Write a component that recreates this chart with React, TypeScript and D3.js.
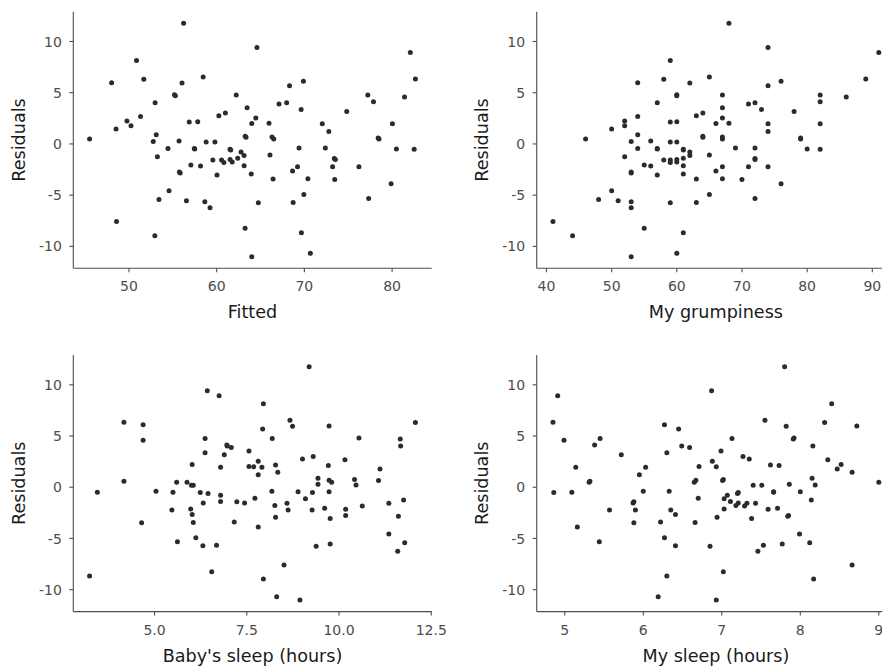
import React from 'react';
import * as d3 from 'd3';

const grumpiness = [
  68, 74, 91, 59, 65, 89, 58, 76, 54, 62,
  74, 60, 67, 82, 60, 86, 82, 72, 57, 71,
  67, 73, 78, 64, 63, 54, 67, 52, 60, 59,
  68, 66, 74, 82, 52, 50, 74, 54, 64, 67,
  64, 79, 46, 67, 79, 56, 53, 59, 60, 72,
  69, 54, 57, 80, 57, 61, 82, 61, 62, 65,
  62, 52, 61, 72, 60, 72, 58, 59, 60, 59,
  55, 61, 56, 67, 71, 74, 66, 53, 53, 61,
  57, 67, 63, 70, 76, 50, 65, 72, 48, 51,
  53, 63, 59, 53, 41, 55, 61, 44, 60, 53,
];

const residuals = [
  11.77, 9.41, 8.92, 8.14, 6.54, 6.34, 6.31, 6.11, 5.98, 5.95,
  5.69, 4.81, 4.77, 4.77, 4.71, 4.58, 4.12, 4.02, 4.02, 3.89,
  3.53, 3.37, 3.17, 3.01, 2.75, 2.68, 2.54, 2.23, 2.16, 2.13,
  2.03, 2.0, 1.96, 1.96, 1.77, 1.47, 1.21, 0.89, 0.75, 0.69,
  0.65, 0.59, 0.49, 0.49, 0.49, 0.29, 0.23, 0.2, 0.2, -0.39,
  -0.39, -0.45, -0.45, -0.49, -0.5, -0.52, -0.52, -0.6, -0.78, -1.08,
  -1.12, -1.24, -1.4, -1.41, -1.53, -1.53, -1.56, -1.56, -1.77, -1.82,
  -2.06, -2.13, -2.16, -2.22, -2.22, -2.22, -2.65, -2.75, -2.84, -2.94,
  -3.04, -3.4, -3.43, -3.46, -3.89, -4.57, -4.94, -5.33, -5.42, -5.55,
  -5.65, -5.72, -5.75, -6.24, -7.58, -8.24, -8.66, -8.95, -10.68, -11.0,
];

const mySleep = [
  7.8, 6.87, 4.91, 8.4, 7.55, 4.85, 8.31, 6.27, 8.72, 7.82,
  6.45, 7.92, 7.13, 5.45, 7.91, 4.99, 5.38, 6.49, 8.16, 6.59,
  6.99, 6.3, 5.72, 7.27, 7.35, 8.35, 6.88, 8.52, 7.62, 7.73,
  6.71, 6.93, 6.03, 5.14, 8.47, 8.66, 5.95, 8.15, 7.02, 6.67,
  7.01, 5.32, 9.0, 6.65, 5.31, 7.86, 8.19, 7.51, 7.4, 6.0,
  6.33, 8.0, 7.66, 5.09, 7.66, 7.21, 4.86, 7.2, 7.07, 6.7,
  7.03, 8.14, 7.11, 5.88, 7.21, 5.87, 7.43, 7.32, 7.18, 7.29,
  7.71, 7.03, 7.59, 6.35, 5.9, 5.57, 6.41, 7.85, 7.84, 6.94,
  7.38, 6.22, 6.66, 5.88, 5.16, 7.99, 6.27, 5.44, 8.12, 7.77,
  7.53, 6.41, 6.85, 7.46, 8.66, 7.02, 6.3, 8.17, 6.19, 6.93,
];

const babySleep = [
  9.19, 6.43, 6.75, 7.95, 8.67, 4.17, 12.07, 4.69, 9.73, 8.74,
  7.93, 10.54, 6.37, 8.19, 11.66, 4.69, 6.96, 6.97, 11.67, 7.08,
  7.56, 6.37, 6.89, 9.3, 9.01, 10.16, 7.81, 6.02, 8.28, 9.71,
  7.56, 7.69, 6.79, 7.91, 11.11, 8.34, 7.81, 9.43, 10.42, 9.73,
  11.07, 4.17, 5.6, 5.88, 9.8, 9.43, 10.46, 6.0, 6.05, 5.04,
  8.18, 8.89, 9.73, 3.45, 5.5, 6.24, 9.28, 6.45, 6.79, 7.72,
  9.09, 11.75, 6.79, 7.23, 6.32, 7.44, 8.59, 11.35, 8.26, 10.63,
  9.61, 5.98, 10.18, 5.47, 8.62, 9.27, 6.02, 10.18, 11.61, 8.28,
  9.76, 7.16, 6.05, 4.65, 7.81, 11.35, 6.12, 5.62, 11.78, 9.76,
  6.68, 6.31, 9.38, 11.59, 8.51, 6.55, 3.24, 7.95, 8.31, 8.94,
];

// fitted value = observed grumpiness minus residual
const fitted = grumpiness.map((g, i) => g - residuals[i]);

const yTicks = [-10, -5, 0, 5, 10];
const fittedTicks = [50, 60, 70, 80];
const grumpTicks = [40, 50, 60, 70, 80, 90];
const babyTicks = [5, 7.5, 10, 12.5];
const sleepTicks = [5, 6, 7, 8, 9];

const W = 882;
const H = 666;
const PLOT_W = 358.4;
const PLOT_H = 256.6;
const FONT = '"DejaVu Sans", Verdana, sans-serif';
const TICK_FS = 14;
const TITLE_FS = 17.6;

function expanded(values: number[]): [number, number] {
  const [lo, hi] = d3.extent(values) as [number, number];
  const pad = (hi - lo) * 0.05;
  return [lo - pad, hi + pad];
}

type PanelProps = {
  left: number;
  top: number;
  xs: number[];
  ys: number[];
  xTicks: number[];
  xFormat: (v: number) => string;
  xTitle: string;
};

function Panel({ left, top, xs, ys, xTicks, xFormat, xTitle }: PanelProps) {
  const x = d3.scaleLinear().domain(expanded(xs)).range([left, left + PLOT_W]);
  const y = d3.scaleLinear().domain(expanded(ys)).range([top + PLOT_H, top]);
  const bottom = top + PLOT_H;
  const axisColor = '#4d4d4d';
  return (
    <g>
      {xs.map((xv, i) => (
        <circle key={i} cx={x(xv)} cy={y(ys[i])} r={2.5} fill="#2b2b2b" />
      ))}
      <line x1={left} x2={left} y1={top} y2={bottom} stroke={axisColor} strokeWidth={1.1} />
      <line x1={left} x2={left + PLOT_W} y1={bottom} y2={bottom} stroke={axisColor} strokeWidth={1.1} />
      {yTicks.map((t) => (
        <g key={'y' + t}>
          <line x1={left - 4} x2={left} y1={y(t)} y2={y(t)} stroke={axisColor} strokeWidth={1.1} />
          <text x={left - 11.5} y={y(t)} dy="0.36em" textAnchor="end" fontSize={TICK_FS} fill="#4d4d4d" fontFamily={FONT}>
            {t}
          </text>
        </g>
      ))}
      {xTicks.map((t) => (
        <g key={'x' + t}>
          <line x1={x(t)} x2={x(t)} y1={bottom} y2={bottom + 4} stroke={axisColor} strokeWidth={1.1} />
          <text x={x(t)} y={bottom + 23} textAnchor="middle" fontSize={TICK_FS} fill="#4d4d4d" fontFamily={FONT}>
            {xFormat(t)}
          </text>
        </g>
      ))}
      <text x={left + PLOT_W / 2} y={bottom + 50} textAnchor="middle" fontSize={TITLE_FS} fill="#1a1a1a" fontFamily={FONT}>
        {xTitle}
      </text>
      <text
        transform={`translate(${left - 48.3},${top + PLOT_H / 2}) rotate(-90)`}
        textAnchor="middle"
        fontSize={TITLE_FS}
        fill="#1a1a1a"
        fontFamily={FONT}
      >
        Residuals
      </text>
    </g>
  );
}

export default function App() {
  const fmtInt = (v: number) => d3.format('d')(v);
  const fmt1 = (v: number) => d3.format('.1f')(v);
  return (
    <svg
      width={W}
      height={H}
      style={{ position: 'absolute', left: 0, top: 0, background: '#fff', overflow: 'hidden' }}
    >
      <rect width={W} height={H} fill="#fff" />
      <Panel left={73.3} top={11.7} xs={fitted} ys={residuals} xTicks={fittedTicks} xFormat={fmtInt} xTitle="Fitted" />
      <Panel left={536.7} top={11.7} xs={grumpiness} ys={residuals} xTicks={grumpTicks} xFormat={fmtInt} xTitle="My grumpiness" />
      <Panel left={73.3} top={355} xs={babySleep} ys={residuals} xTicks={babyTicks} xFormat={fmt1} xTitle="Baby's sleep (hours)" />
      <Panel left={536.7} top={355} xs={mySleep} ys={residuals} xTicks={sleepTicks} xFormat={fmtInt} xTitle="My sleep (hours)" />
    </svg>
  );
}
